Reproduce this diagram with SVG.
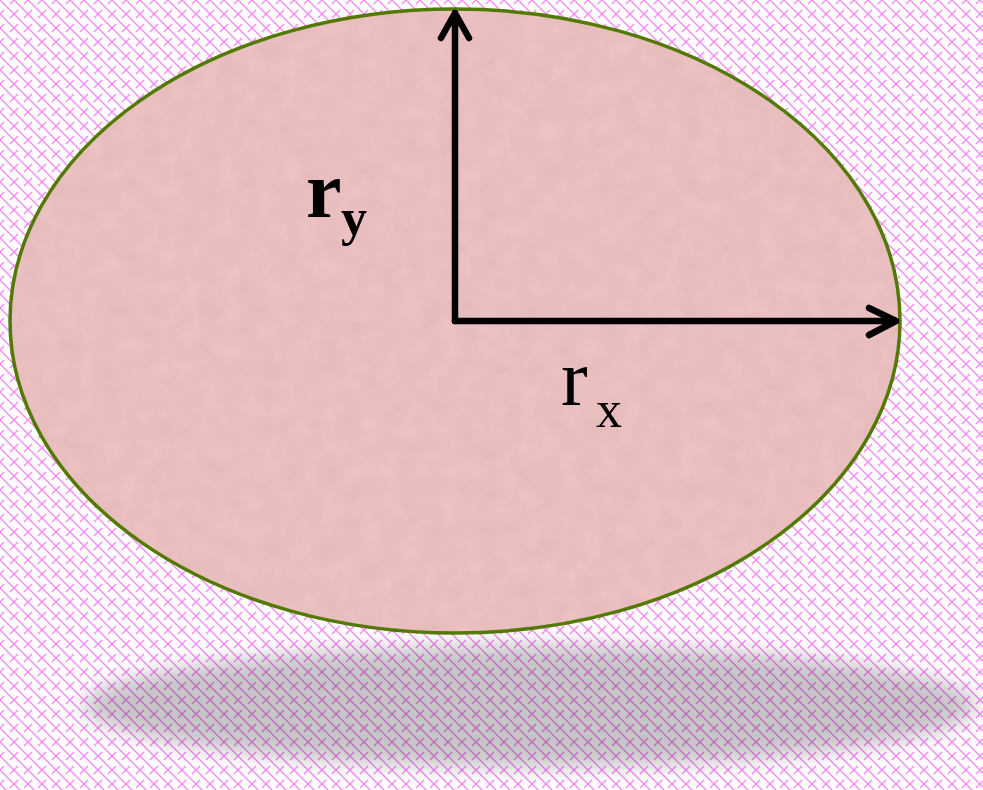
<svg xmlns="http://www.w3.org/2000/svg" width="983" height="790" viewBox="0 0 983 790">
  <defs>
    <pattern id="bgpat" width="14" height="14" patternUnits="userSpaceOnUse">
      <rect width="14" height="14" fill="#ffffff"/>
      <path d="M-1,-1 L15,15" stroke="#f78ef7" stroke-width="1.5"/>
      <path d="M14,0 L10,4 M4,10 L0,14" stroke="#f78ef7" stroke-width="1.5"/>
    </pattern>
    <filter id="shadowBlur" x="-10%" y="-50%" width="120%" height="200%">
      <feGaussianBlur stdDeviation="10"/>
    </filter>
    <filter id="tex" x="0" y="0" width="100%" height="100%">
      <feTurbulence type="fractalNoise" baseFrequency="0.05" numOctaves="3" seed="4" result="n"/>
      <feColorMatrix in="n" type="matrix" values="0 0 0 0 0.55  0 0 0 0 0.35  0 0 0 0 0.35  0 0 0 0.35 -0.05" result="c"/>
      <feComposite in="c" in2="SourceGraphic" operator="in" result="t"/>
      <feMerge><feMergeNode in="SourceGraphic"/><feMergeNode in="t"/></feMerge>
    </filter>
    <style>
      .arrow { fill: none; stroke: #000; stroke-width: 6.5; stroke-linecap: round; stroke-linejoin: round; }
      .lbl { font-family: "Liberation Serif", "Times New Roman", serif; fill: #000; }
    </style>
  </defs>
  <rect width="983" height="790" fill="url(#bgpat)"/>
  <g id="shadow">
    <ellipse cx="530" cy="706" rx="448" ry="62" fill="#000" opacity="0.22" filter="url(#shadowBlur)"/>
  </g>
  <g id="ellipse">
    <ellipse cx="455" cy="321" rx="445" ry="312" fill="#eec2c2" filter="url(#tex)"/>
    <ellipse cx="455" cy="321" rx="445" ry="312" fill="none" stroke="#527a00" stroke-width="3.5"/>
  </g>
  <g id="connectors">
    <path class="arrow" d="M455,321 L455,13 M441,38 L455,13 L469,38"/>
    <path class="arrow" d="M455,321 L896,321 M869,308 L896,321 L869,335"/>
  </g>
  <g id="label-ry">
    <text class="lbl" x="306" y="217" font-size="80" font-weight="bold">r</text>
    <text class="lbl" x="341" y="235" font-size="52" font-weight="bold">y</text>
  </g>
  <g id="label-rx">
    <text class="lbl" x="561" y="405" font-size="80">r</text>
    <text class="lbl" x="596" y="427" font-size="52">x</text>
  </g>
</svg>
